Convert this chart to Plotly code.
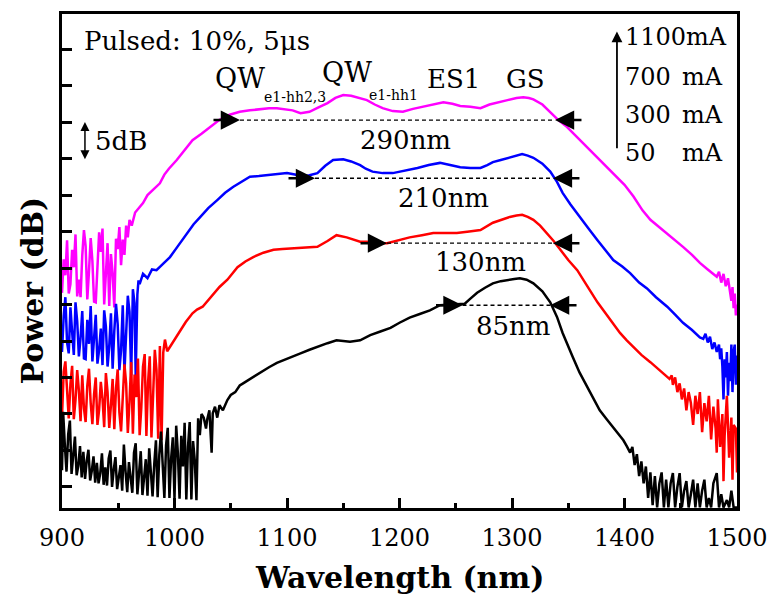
import plotly.graph_objects as go

# ---------------- data (wavelength nm, power dB) ----------------
MAGENTA_1100 = [(900,26.6),(901.5,31.2),(903,29.0),(904.5,33.8),(906,26.5),(907.5,27.8),(909,32.5),(910.5,30.1),
(912,34.6),(913.5,26.1),(915,28.4),(916.5,26.0),(918,31.7),(919.5,35.2),(921,33.0),(922.5,25.7),(924,29.6),
(925.5,34.1),(927,31.0),(928.5,25.4),(930,25.3),(931.5,30.8),(933,34.9),(934.5,32.2),(936,35.4),(937.5,25.0),
(939,28.7),(940.5,33.4),(942,24.8),(943.5,31.9),(945,29.3),(946.5,24.6),(948,34.0),(949.5,32.6),(951,35.6),
(952.5,30.4),(954,33.9),(955.5,31.8),(957,35.8),(958.5,34.2),(960,36.6),(962,35.8),(965,37.6),(968,38.2),
(972,38.9),(976,40.0),(980,40.6),(984,41.2),(987,41.6),(991,42.8),(995,43.6),(1002,44.8),(1009,46.2),
(1016,47.5),(1024,48.4),(1032,49.3),(1040,50.3),(1049,51.0),(1058,51.4),(1067,51.6),(1076,51.8),(1084,51.9),
(1091,51.9),(1098,51.7),(1105,51.6),(1112,51.2),(1120,51.4),(1128,52.0),(1136,52.6),(1143,53.3),(1150,53.7),
(1157,53.6),(1165,53.3),(1171,53.0),(1178,52.4),(1185,51.9),(1194,51.5),(1203,51.4),(1212,51.8),(1221,52.1),
(1230,52.5),(1239,52.7),(1247,52.5),(1254,52.2),(1263,52.1),(1272,51.9),(1280,52.4),(1287,52.7),(1296,53.0),
(1304,53.3),(1310,53.4),(1315,53.3),(1319,53.1),(1327,52.4),(1334,51.4),(1341,50.3),(1349,49.3),(1356,48.2),
(1363,47.1),(1371,45.9),(1378,44.8),(1386,43.6),(1393,42.5),(1400,41.4),(1408,39.8),(1416,37.9),(1423,36.6),
(1430,35.7),(1438,34.8),(1445,33.8),(1452,32.9),(1460,31.8),(1467,30.7),(1474,29.8),(1480,29.0),(1482,28.8),
(1484,29.5),(1486,28.0),(1488,29.2),(1490,27.5),(1492,28.6),(1494,26.8),(1495,25.5),(1496,27.4),(1497,24.5),
(1498,26.5),(1499,23.5),(1500,25.0)]

BLUE_700 = [(900,18.5),(901.5,23.4),(903,26.0),(904.5,19.8),(906,18.3),(907.5,24.6),(909,21.2),(910.5,18.1),
(912,25.3),(913.5,22.7),(915,17.9),(916.5,20.4),(918,24.1),(919.5,17.6),(921,17.5),(922.5,22.9),(924,19.6),
(925.5,24.8),(927,17.2),(928.5,20.9),(930,23.6),(931.5,16.9),(933,18.8),(934.5,21.7),(936,16.7),(937.5,24.2),
(939,22.0),(940.5,16.5),(942,19.3),(943.5,23.8),(945,16.2),(946.5,21.4),(948,25.1),(949.5,22.3),(951,16.0),
(952.5,18.7),(954,24.9),(955.5,15.7),(957,21.8),(958.5,26.2),(960,24.0),(961.5,15.3),(963,27.1),(964.5,25.2),
(965.5,15.1),(967,26.4),(968,28.3),(969,27.8),(972,29.2),(976,28.6),(980,29.8),(984,29.7),(990,30.6),
(996,31.5),(1003,33.0),(1011,34.8),(1017,36.0),(1023,37.0),(1030,38.2),(1038,39.3),(1045,40.3),(1052,41.1),
(1060,41.9),(1067,42.5),(1075,42.6),(1082,42.7),(1091,42.9),(1100,43.0),(1107,42.8),(1114,42.5),(1120,42.7),
(1127,43.0),(1134,44.0),(1141,44.8),(1150,44.9),(1157,44.6),(1165,44.1),(1170,43.6),(1176,43.2),(1185,43.0),
(1194,43.0),(1205,43.3),(1216,43.7),(1226,44.1),(1236,44.4),(1245,44.1),(1254,43.8),(1263,43.7),(1272,43.7),
(1278,44.1),(1283,44.5),(1290,44.8),(1298,45.1),(1304,45.4),(1309,45.6),(1314,45.4),(1319,45.1),(1327,44.3),
(1334,43.2),(1340,41.8),(1345,40.3),(1352,38.7),(1360,37.0),(1368,35.4),(1376,33.8),(1383,32.4),(1390,31.1),
(1398,30.2),(1405,29.3),(1413,28.0),(1420,27.2),(1428,26.0),(1438,24.7),(1445,23.6),(1452,22.5),(1460,21.5),
(1467,20.5),(1470,20.3),(1472,21.0),(1474,19.8),(1476,20.6),(1478,18.9),(1480,19.8),(1482,18.5),(1484,19.5),
(1485,17.5),(1486,19.0),(1487,16.5),(1488,12.0),(1489,17.5),(1490,15.0),(1491,18.5),(1492,12.5),(1493,17.0),
(1494,14.5),(1495,19.5),(1496,13.0),(1497,18.5),(1498,19.5),(1499,14.0),(1500,18.0)]

RED_300 = [(900,9.6),(901.5,15.8),(903,17.2),(904.5,12.4),(906,9.4),(907.5,14.1),(909,16.6),(910.5,9.3),
(912,11.9),(913.5,16.0),(915,13.2),(916.5,9.0),(918,15.3),(919.5,10.8),(921,8.9),(922.5,13.9),(924,16.2),
(925.5,11.5),(927,8.6),(928.5,12.7),(930,15.0),(931.5,8.5),(933,10.6),(934.5,14.4),(936,12.1),(937.5,8.2),
(939,15.6),(940.5,13.0),(942,8.1),(943.5,11.2),(945,14.8),(946.5,7.9),(948,13.5),(949.5,16.1),(951,10.2),
(952.5,7.6),(954,12.9),(955.5,16.8),(957,14.2),(958.5,7.4),(960,11.7),(961.5,17.1),(963,7.3),(964.5,15.4),
(966,12.3),(967.5,17.6),(969,7.1),(970.5,10.9),(972,16.5),(973.5,18.2),(975,7.0),(976.5,14.3),(978,17.9),
(979.5,6.8),(981,12.6),(982.5,18.8),(984,16.0),(985.5,6.6),(987,19.3),(988.5,6.4),(990,18.4),(991.5,20.2),
(993.5,18.6),(996,19.2),(1000,20.3),(1005,21.5),(1010,22.6),(1016,23.8),(1020,24.3),(1025,24.7),(1032,26.0),
(1040,27.4),(1047,28.4),(1056,30.1),(1063,30.9),(1070,31.5),(1079,32.1),(1088,32.5),(1096,32.6),(1105,32.7),
(1116,32.8),(1127,32.9),(1136,33.7),(1144,34.5),(1153,34.2),(1165,33.6),(1171,33.6),(1180,33.4),(1189,33.4),
(1199,33.8),(1209,34.2),(1220,34.5),(1230,34.8),(1240,34.8),(1251,34.8),(1262,35.0),(1272,35.2),(1283,36.2),
(1290,36.6),(1298,37.0),(1304,37.2),(1309,37.3),(1314,37.0),(1319,36.6),(1325,35.8),(1331,34.8),(1337,33.7),
(1343,32.5),(1350,31.1),(1358,29.7),(1364,28.3),(1369,27.0),(1376,25.3),(1384,23.6),(1390,22.3),(1396,21.1),
(1402,20.1),(1408,19.2),(1415,18.1),(1423,17.1),(1430,16.2),(1438,15.1),(1440,14.8),(1442,15.3),(1443,14.0),
(1445,15.0),(1447,13.0),(1449,14.2),(1451,12.0),(1453,13.5),(1455,10.5),(1457,13.0),(1459,11.5),(1461,8.5),
(1463,12.5),(1465,10.0),(1467,13.0),(1469,7.5),(1471,11.5),(1473,9.0),(1475,12.5),(1477,6.5),(1479,11.0),
(1481,8.0),(1482,4.7),(1483,12.0),(1485,5.5),(1487,10.0),(1488,0.8),(1489,7.0),(1491,12.5),(1493,4.0),
(1495,9.5),(1496,1.0),(1497,8.5),(1499,8.0),(1500,2.0)]

BLACK_50 = [(900,2.3),(901,10.3),(902.5,5.8),(904,2.1),(905.5,7.2),(907,9.1),(908.5,1.8),(910,4.4),(911.5,6.9),
(913,1.6),(914.5,2.9),(916,5.6),(917.5,1.3),(919,4.8),(920.5,1.1),(922,3.6),(923.5,5.1),(925,0.9),(926.5,2.2),
(928,4.2),(929.5,0.6),(931,3.3),(932.5,0.5),(934,1.9),(935.5,4.6),(937,0.3),(938.5,2.7),(940,0.2),(941.5,3.9),
(943,5.0),(944.5,0.0),(946,2.4),(947.5,4.1),(949,-0.3),(950.5,1.6),(952,3.0),(953.5,-0.5),(955,5.8),(956.5,2.1),
(958,-0.7),(959.5,3.4),(961,0.9),(962.5,-0.8),(964,4.7),(965.5,6.0),(967,-1.0),(968.5,2.6),(970,4.9),
(971.5,-1.1),(973,1.2),(974.5,3.8),(976,-1.2),(977.5,5.3),(979,2.0),(980.5,-1.3),(982,3.1),(983.5,6.4),
(985,-1.4),(986.5,4.4),(988,7.6),(989.5,2.3),(991,-1.5),(992.5,5.7),(994,8.1),(995.5,-1.5),(997,3.9),
(998.5,6.8),(1000,-1.6),(1001.5,8.4),(1003,4.6),(1004.5,-1.6),(1006,7.0),(1007.5,2.8),(1009,8.8),(1010.5,-1.7),
(1012,5.5),(1013.5,8.9),(1015,-1.7),(1016.5,6.3),(1018,3.7),(1019.5,-1.8),(1021,9.4),(1022.5,7.1),(1024,10.0),
(1026,9.5),(1028,8.0),(1029,9.2),(1031,10.5),(1033,4.7),(1034,10.1),(1036,11.0),(1038,9.5),(1040,11.2),
(1043,10.5),(1047,11.9),(1050,12.6),(1054,13.0),(1058,13.9),(1061,14.2),(1068,14.9),(1076,15.6),(1084,16.4),
(1091,17.0),(1098,17.4),(1105,17.8),(1112,18.3),(1120,18.8),(1128,19.3),(1136,19.7),(1144,20.1),(1150,20.0),
(1156,19.9),(1165,20.1),(1174,20.8),(1183,21.3),(1192,21.8),(1200,22.5),(1209,23.2),(1218,23.7),(1227,24.2),
(1236,24.9),(1247,25.0),(1258,25.1),(1263,25.8),(1269,26.6),(1276,27.3),(1283,27.9),(1290,28.2),(1296,28.4),
(1302,28.5),(1307,28.6),(1313,28.4),(1319,27.9),(1327,26.8),(1334,25.3),(1340,23.3),(1345,21.1),(1350,19.2),
(1354,17.8),(1360,15.7),(1367,13.7),(1372,12.1),(1378,10.5),(1384,9.3),(1390,8.2),(1395,7.2),(1399,6.4),
(1402,5.6),(1405,4.7),(1407,5.5),(1409,3.0),(1411,4.5),(1413,1.5),(1415,3.5),(1417,0.5),(1419,2.8),(1421,-1.5),
(1423,2.0),(1425,-2.5),(1427,1.5),(1429,-2.8),(1431,0.5),(1433,2.0),(1435,-2.8),(1437,1.0),(1439,-2.8),
(1441,0.5),(1443,1.9),(1445,-2.8),(1447,0.0),(1449,1.9),(1451,-2.8),(1453,-0.5),(1455,0.8),(1457,-2.8),
(1459,-1.0),(1461,1.0),(1463,-2.8),(1465,0.5),(1467,-2.8),(1469,-0.5),(1471,1.0),(1473,-2.8),(1475,-1.5),
(1477,-2.8),(1479,0.5),(1482,1.9),(1484,-2.8),(1486,-1.0),(1488,-2.8),(1491,-1.8),(1493,-2.8),(1495,-0.5),
(1497,-2.8),(1500,-2.8)]

SERIES = [("1100 mA", MAGENTA_1100, "#FF00FF"),
          ("700 mA", BLUE_700, "#0000FF"),
          ("300 mA", RED_300, "#FF0000"),
          ("50 mA", BLACK_50, "#000000")]

# FWHM markers
FWHM_LEVEL = [50.27, 42.3, 33.4, 24.9]
FWHM_LEFT = [1058.2, 1124.9, 1188.9, 1256.0]
FWHM_RIGHT = [1338.2, 1336.4, 1336.4, 1333.8]
FWHM_TEXT = ["290nm", "210nm", "130nm", "85nm"]
FWHM_TEXT_POS = [(1204.9, 47.5), (1238.7, 39.6), (1271.6, 30.8), (1300.9, 22.1)]

X_TICKS = [900, 1000, 1100, 1200, 1300, 1400, 1500]
Y_TICKS = list(range(0, 61, 5))
CURRENTS = ["1100", "700", "300", "50"]

FONT = "DejaVu Serif"

fig = go.Figure()
for name, pts, col in SERIES:
    fig.add_trace(go.Scatter(x=[p[0] for p in pts], y=[p[1] for p in pts], mode="lines",
                             name=name, line=dict(color=col, width=2.5)))

for lv, l, r in zip(FWHM_LEVEL, FWHM_LEFT, FWHM_RIGHT):
    fig.add_trace(go.Scatter(x=[l, r], y=[lv, lv], mode="lines",
                             line=dict(color="black", width=1.3, dash="4px,3px"), hoverinfo="skip"))

ann = []
for lv, l, r in zip(FWHM_LEVEL, FWHM_LEFT, FWHM_RIGHT):
    ann.append(dict(x=l, y=lv, ax=-28, ay=0, text="", showarrow=True, arrowhead=2,
                    arrowsize=1.6, arrowwidth=2.4, arrowcolor="black"))
    ann.append(dict(x=r, y=lv, ax=28, ay=0, text="", showarrow=True, arrowhead=2,
                    arrowsize=1.6, arrowwidth=2.4, arrowcolor="black"))
for t, (tx, ty) in zip(FWHM_TEXT, FWHM_TEXT_POS):
    ann.append(dict(x=tx, y=ty, text=t, showarrow=False, font=dict(size=26)))

# peak labels
ann += [
    dict(x=1058.2, y=55.9, text="QW", showarrow=False, font=dict(size=27)),
    dict(x=1106.7, y=53.4, text="e1-hh2,3", showarrow=False, font=dict(size=14)),
    dict(x=1153.3, y=56.8, text="QW", showarrow=False, font=dict(size=27)),
    dict(x=1195.1, y=53.7, text="e1-hh1", showarrow=False, font=dict(size=14)),
    dict(x=1248.4, y=55.9, text="ES1", showarrow=False, font=dict(size=26)),
    dict(x=1311.6, y=55.9, text="GS", showarrow=False, font=dict(size=26)),
    dict(x=917.8, y=61.1, text="Pulsed: 10%, 5μs", showarrow=False, xanchor="left", font=dict(size=26)),
    dict(x=952.4, y=47.4, text="5dB", showarrow=False, font=dict(size=26)),
    dict(x=920.4, y=50.0, ax=920.4, ay=44.7, axref="x", ayref="y", text="", showarrow=True,
         arrowside="end+start", arrowhead=2, arrowsize=1.2, arrowwidth=1.5, arrowcolor="black"),
    dict(x=1393.3, y=62.4, ax=1393.3, ay=46.2, axref="x", ayref="y", text="", showarrow=True,
         arrowhead=2, arrowsize=1.2, arrowwidth=1.8, arrowcolor="black"),
]
ROW_Y = [61.6, 56.2, 50.96, 45.75]
ann.append(dict(x=1398.7, y=ROW_Y[0], text=CURRENTS[0] + "mA", showarrow=False, xanchor="left",
                font=dict(size=24)))
for cur, yy in zip(CURRENTS[1:], ROW_Y[1:]):
    ann.append(dict(x=1398.7, y=yy, text=cur, showarrow=False, xanchor="left", font=dict(size=24)))
    ann.append(dict(x=1489.0, y=yy, text="mA", showarrow=False, xanchor="right", font=dict(size=24)))

ann.append(dict(xref="paper", yref="paper", x=-0.044, y=0.441, xanchor="center", yanchor="middle",
                text="<b>Power (dB)</b>", textangle=-90, showarrow=False, font=dict(size=30)))
ann.append(dict(xref="paper", yref="paper", x=0.5, y=-0.14, xanchor="center", yanchor="middle",
                text="<b>Wavelength (nm)</b>", showarrow=False, font=dict(size=30)))

fig.update_layout(
    width=769, height=600, margin=dict(l=62, r=32, t=14, b=92, autoexpand=False),
    plot_bgcolor="white", paper_bgcolor="white", showlegend=False,
    font=dict(family=FONT, color="black"),
    annotations=ann,
    xaxis=dict(range=[900, 1500], tickvals=X_TICKS, ticks="inside", ticklen=10, tickwidth=3,
               tickcolor="black", showline=True, linewidth=3, linecolor="black", mirror=True,
               showgrid=False, zeroline=False, tickfont=dict(size=24, family=FONT),
               ticklabelstandoff=6, automargin=False,
               minor=dict(ticks="inside", dtick=50, ticklen=5, tickwidth=3, tickcolor="black", showgrid=False)),
    yaxis=dict(range=[-2.88, 64.8], tickvals=Y_TICKS, showticklabels=False, ticks="inside",
               ticklen=10, tickwidth=3, tickcolor="black", showline=True, linewidth=3,
               linecolor="black", mirror=True, showgrid=False, zeroline=False, automargin=False),
)

fig.write_html("out.html")
